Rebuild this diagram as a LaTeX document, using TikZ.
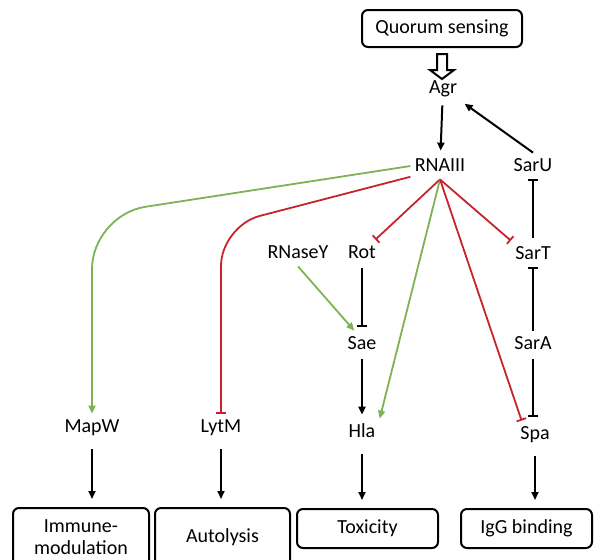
\documentclass[tikz,border=0pt]{standalone}
\usepackage{fontspec}
\setmainfont{Carlito}
\usetikzlibrary{calc}
\usetikzlibrary{arrows.meta}
\definecolor{leafgreen}{RGB}{125, 178, 85}
\definecolor{brickred}{RGB}{200, 35, 45}

\begin{document}
\begin{tikzpicture}[x=0.5pt, y=-0.5pt,
    gene/.style={inner sep=2pt, text height=7pt, text depth=2pt, font=\fontsize{10}{11}\selectfont},
    outcome/.style={draw, line width=1pt, rounded corners=3pt, align=center, inner sep=1pt,
                    font=\fontsize{10}{11}\selectfont},
    act/.style={-{Triangle[length=4pt, width=3.5pt]}, line width=1pt},
    inh/.style={-{Bar[width=5pt]}, line width=1pt},
    gact/.style={act, leafgreen, line width=0.9pt},
    rinh/.style={inh, brickred, line width=0.9pt}]
\useasboundingbox (0,0) rectangle (594,559);

% regulators
\node[outcome, minimum width=80pt, minimum height=18.5pt] (qs) at (442,28.5) {Quorum sensing};
\node[gene] (agr)    at (443,88)  {Agr};
\node[gene] (rna)    at (440,166) {RNAIII};
\node[gene] (saru)   at (533,166) {SarU};
\node[gene] (rnasey) at (298,253) {RNaseY};
\node[gene] (rot)    at (362,253) {Rot};
\node[gene] (sart)   at (533,254) {SarT};
\node[gene] (sae)    at (362,344) {Sae};
\node[gene] (sara)   at (533,344) {SarA};
\node[gene] (mapw)   at (92,427)  {MapW};
\node[gene] (lytm)   at (221,427) {LytM};
\node[gene] (hla)    at (362,432) {Hla};
\node[gene] (spa)    at (535,434) {Spa};

% outcomes
\node[outcome, minimum width=68pt, minimum height=29pt] (imm) at (81,537) {Immune-\\modulation};
\node[outcome, minimum width=67.5pt, minimum height=29pt] (auto) at (222.5,537) {Autolysis};
\node[outcome, minimum width=70.5pt, minimum height=19.5pt] (tox) at (367.5,528.5) {Toxicity};
\node[outcome, minimum width=65.5pt, minimum height=19.5pt] (igg) at (526.5,528.5) {IgG binding};

% hollow arrow
\draw[line width=1pt, fill=white] ($(qs.south)+(-5,6)$) -- ++(0,16) -- ++(-7,0) -- ++(12,9)
      -- ++(12,-9) -- ++(-7,0) -- ++(0,-16) -- cycle;

% black links
\draw[act, shorten <=2pt, shorten >=1pt] (agr) -- (rna);
\draw[act, shorten >=2pt] (saru.north) -- (agr.south east);
\draw[inh, shorten <=1.5pt] (sart) -- (saru);
\draw[inh] (sara) -- (sart);
\draw[inh, shorten <=1pt, shorten >=2pt] (sara) -- (sara |- spa.north);
\draw[inh, shorten <=1pt, shorten >=2pt] (rot) -- (sae);
\draw[act, shorten <=1pt, shorten >=2pt] (sae) -- (hla);

% RNAIII targets
\draw[gact, rounded corners=27pt] (rna.west) -- (mapw.north |- 0,215) -- (mapw.north);
\draw[rinh, rounded corners=20pt] (rna.200) -- (lytm.north |- 0,226) -- (lytm.north);
\draw[rinh] (rna.south) -- (rot.45);
\draw[gact] (rna.south) -- (hla.north east);
\draw[rinh] (rna.south) -- (spa.135);
\draw[rinh] (rna.south) -- (sart.north west);
\draw[gact] (rnasey.south) -- (sae.120);

% outputs
\draw[act, shorten <=4.5pt, shorten >=4pt] (mapw) -- (mapw |- imm.north);
\draw[act, shorten <=4.5pt, shorten >=4pt] (lytm) -- (lytm |- auto.north);
\draw[act, shorten <=4.5pt, shorten >=4pt] (hla) -- (hla |- tox.north);
\draw[act, shorten <=4.5pt, shorten >=4pt] (spa) -- (spa |- igg.north);
\end{tikzpicture}
\end{document}
